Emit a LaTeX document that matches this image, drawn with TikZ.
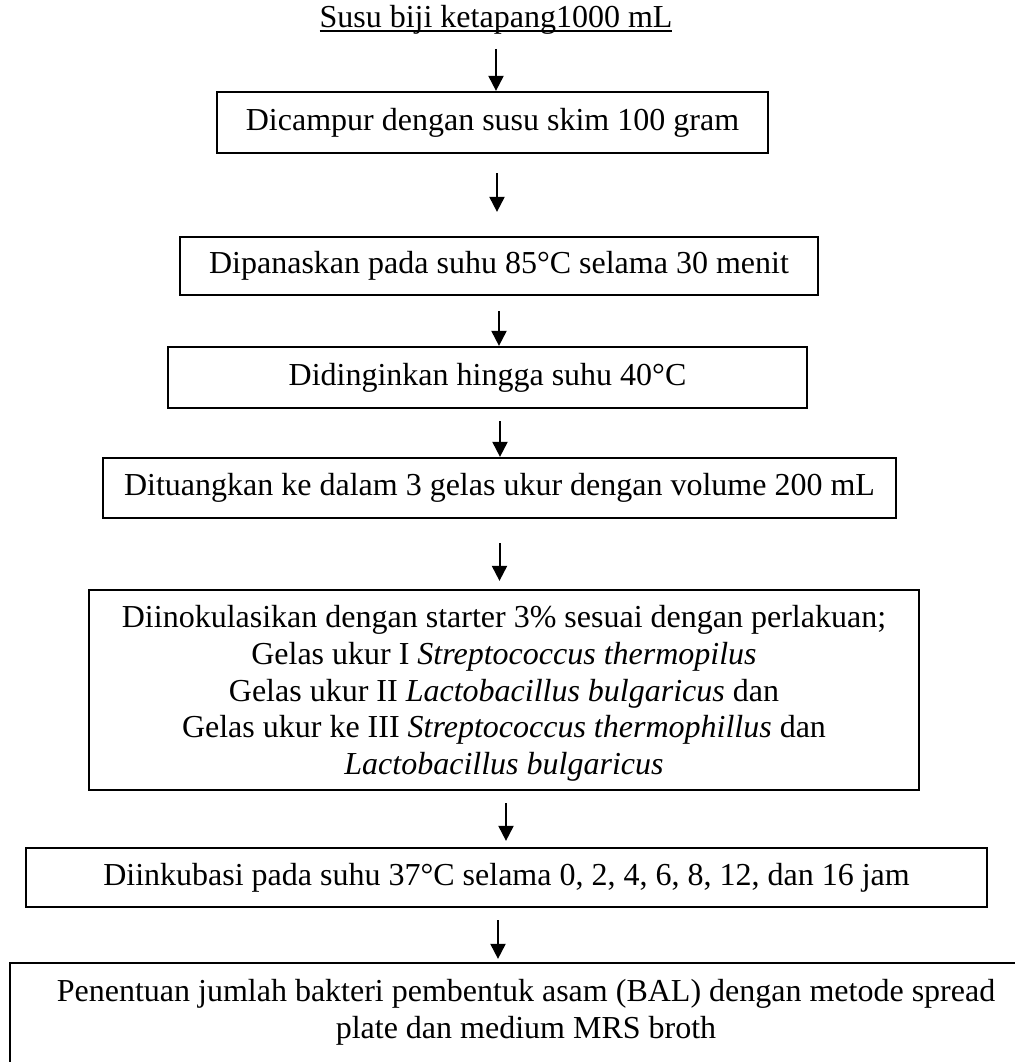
\documentclass[tikz,border=0pt]{standalone}
\usepackage{fontspec}
\setmainfont{Liberation Serif}
\usetikzlibrary{arrows.meta}

\newlength{\ulwidth}
\newcommand{\wordul}[1]{\settowidth{\ulwidth}{#1}\rlap{\rule[-2pt]{\ulwidth}{0.8pt}}#1}
\setlength{\lineskiplimit}{-20pt}

\begin{document}
\begin{tikzpicture}[x=0.4pt,y=-0.4pt,
  font=\fontsize{12.8}{14.7}\selectfont,
  stepbox/.style={draw, line width=0.9pt, inner sep=0pt, align=center},
  flow/.style={-{Triangle[length=6pt,width=6pt]}, line width=0.8pt}]
\useasboundingbox (0,0) rectangle (1015,1062);
\clip (0,0) rectangle (1015,1062);
\node[inner sep=0pt, anchor=base] (judul) at (496,27) {\wordul{Susu biji ketapang1000 mL}};
\node[stepbox, minimum width=551*0.4pt, minimum height=61*0.4pt] (campur) at (492.5,122.5) {Dicampur dengan susu skim 100 gram};
\node[stepbox, minimum width=638*0.4pt, minimum height=58*0.4pt] (panas) at (499,266) {Dipanaskan pada suhu 85°C selama 30 menit};
\node[stepbox, minimum width=639*0.4pt, minimum height=61*0.4pt] (dingin) at (487.5,377.5) {Didinginkan hingga suhu 40°C};
\node[stepbox, minimum width=793*0.4pt, minimum height=60*0.4pt] (tuang) at (499.5,488) {Dituangkan ke dalam 3 gelas ukur dengan volume 200 mL};
\node[stepbox, minimum width=830*0.4pt, minimum height=200*0.4pt, text depth=-5pt] (inokulasi) at (504,690) {Diinokulasikan dengan starter 3\% sesuai dengan perlakuan;\\
  Gelas ukur I \textit{Streptococcus thermopilus}\\
  Gelas ukur II \textit{Lactobacillus bulgaricus} dan\\
  Gelas ukur ke III \textit{Streptococcus thermophillus} dan\\
  \textit{Lactobacillus bulgaricus}};
\node[stepbox, minimum width=961*0.4pt, minimum height=59*0.4pt] (inkubasi) at (506.5,877.5) {Diinkubasi pada suhu 37°C selama 0, 2, 4, 6, 8, 12, dan 16 jam};
\node[stepbox, minimum width=1032*0.4pt, minimum height=140*0.4pt, text depth=19pt] (hitung) at (526,1033) {Penentuan jumlah bakteri pembentuk asam (BAL) dengan metode spread\\
  plate dan medium MRS broth};
\draw[flow, shorten <=5.8pt] (judul.south) -- (judul.south |- campur.north);
\draw[flow, shorten <=7.6pt, shorten >=9.6pt] ([xshift=1.8pt]campur.south) -- ([xshift=1.8pt]campur.south |- panas.north);
\draw[flow, shorten <=6pt] (panas.south) -- (panas.south |- dingin.north);
\draw[flow, shorten <=4.8pt] ([xshift=5pt]dingin.south) -- ([xshift=5pt]dingin.south |- tuang.north);
\draw[flow, shorten <=9.6pt, shorten >=3.2pt] (tuang.south) -- (tuang.south |- inokulasi.north);
\draw[flow, shorten <=4.8pt, shorten >=2.4pt] ([xshift=0.8pt]inokulasi.south) -- ([xshift=0.8pt]inokulasi.south |- inkubasi.north);
\draw[flow, shorten <=4.8pt, shorten >=1.2pt] ([xshift=-3.4pt]inkubasi.south) -- ([xshift=-3.4pt]inkubasi.south |- hitung.north);
\end{tikzpicture}
\end{document}
